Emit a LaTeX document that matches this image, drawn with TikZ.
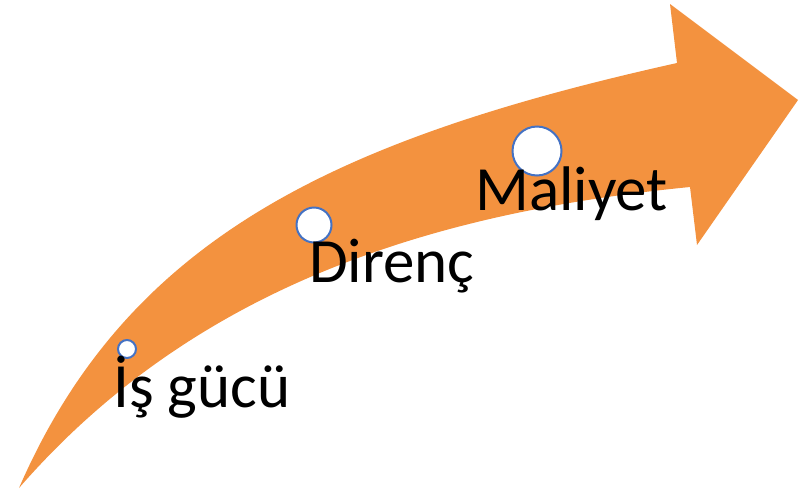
\documentclass[tikz,border=0pt]{standalone}
\usepackage{fontspec}
\setmainfont{Carlito}
\definecolor{arroworange}{RGB}{243,146,63}
\definecolor{ringblue}{RGB}{68,114,196}
\tikzset{
  ring/.style={circle, draw=ringblue, fill=white, line width=2pt, inner sep=0pt},
  stage/.style={anchor=base west, inner sep=0pt, font=\fontsize{63}{72}\selectfont, text=black}
}
\begin{document}
\begin{tikzpicture}[x=1pt, y=-1pt]
  \useasboundingbox (0,0) rectangle (810,493);
  % curved upward arrow
  \fill[arroworange]
    (19,488) .. controls (127,240) and (331,140) .. (677,63)
    -- (670,4) -- (798,100) -- (697,245) -- (690,187)
    .. controls (415,214) and (187,295) .. (19,488) -- cycle;
  % stage markers
  \node[ring, minimum size=18pt] (c1) at (127,349) {};
  \node[ring, minimum size=35pt] (c2) at (314,225) {};
  \node[ring, minimum size=49pt] (c3) at (537,151) {};
  % stage labels
  \node[stage] (t1) at (113,407) {İş gücü};
  \node[stage] (t2) at (309,282) {Direnç};
  \node[stage] (t3) at (475,210) {Maliyet};
\end{tikzpicture}
\end{document}
